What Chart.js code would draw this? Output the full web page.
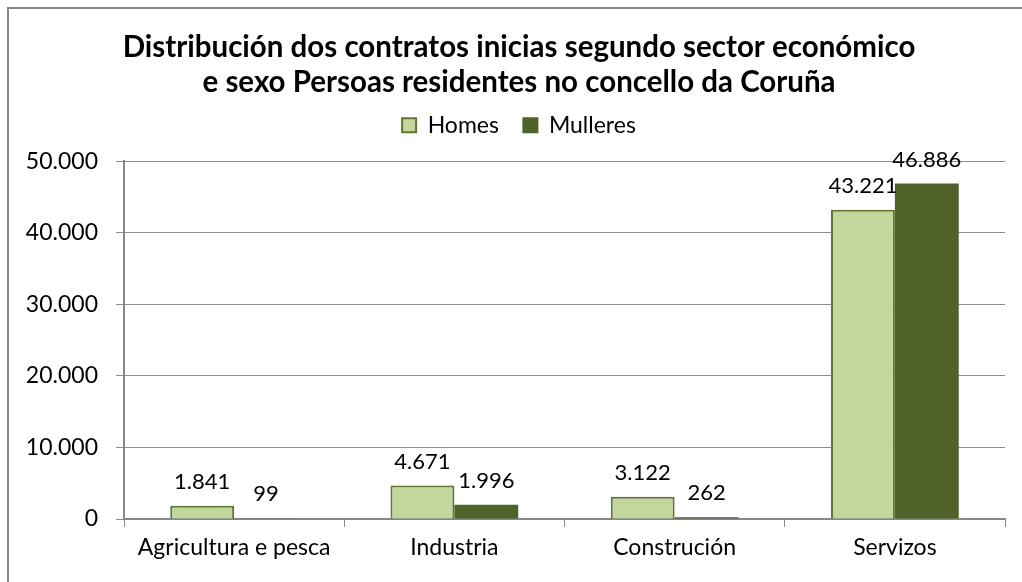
<!DOCTYPE html>
<html>
<head>
<meta charset="utf-8">
<script src="https://cdn.jsdelivr.net/npm/chart.js@4.4.0/dist/chart.umd.min.js"></script>
<style>
  html, body { margin: 0; padding: 0; background: #ffffff; }
  #wrap { position: relative; width: 1022px; height: 582px; }
</style>
</head>
<body>
<div id="wrap"><canvas id="c" width="1022" height="582"></canvas></div>
<script>
const titleLines = ["Distribución dos contratos inicias segundo sector económico", "e sexo Persoas residentes no concello da Coruña"];
const categories = ["Agricultura e pesca", "Industria", "Construción", "Servizos"];
const seriesNames = ["Homes", "Mulleres"];
const homes = [1841, 4671, 3122, 43221];
const mulleres = [99, 1996, 262, 46886];
const yTicks = [0, 10000, 20000, 30000, 40000, 50000];

const FONT = "Lato, 'Open Sans', sans-serif";
const fmt = v => v.toString().replace(/\B(?=(\d{3})+(?!\d))/g, ".");

const framePlugin = {
  id: 'frame',
  beforeDraw(chart) {
    const ctx = chart.ctx;
    ctx.save();
    ctx.fillStyle = '#ffffff';
    ctx.fillRect(0, 0, chart.width, chart.height);
    ctx.strokeStyle = '#868686';
    ctx.lineWidth = 2;
    ctx.beginPath();
    ctx.moveTo(8, chart.height);
    ctx.lineTo(8, 8);
    ctx.lineTo(chart.width, 8);
    ctx.stroke();
    ctx.restore();
  }
};

// shift the title and legend block so they are centred on the frame as in the reference
const centrePlugin = {
  id: 'centreHeader',
  afterLayout(chart) {
    if (chart.titleBlock) chart.titleBlock.left += 33;
    if (chart.legend) chart.legend.left += 33;
  }
};

const labelPlugin = {
  id: 'vlabels',
  afterDatasetsDraw(chart) {
    const ctx = chart.ctx;
    ctx.save();
    ctx.font = "22px " + FONT;
    ctx.fillStyle = '#000000';
    ctx.textAlign = 'center';
    ctx.textBaseline = 'middle';
    chart.data.datasets.forEach((ds, di) => {
      const meta = chart.getDatasetMeta(di);
      meta.data.forEach((bar, i) => {
        ctx.fillText(fmt(ds.data[i]), bar.x, bar.y - 24);
      });
    });
    ctx.restore();
  }
};

new Chart(document.getElementById('c'), {
  type: 'bar',
  data: {
    labels: categories,
    datasets: [
      { label: seriesNames[0], data: homes, backgroundColor: '#c3d69b', borderColor: '#5f7530', borderWidth: 2, borderSkipped: 'bottom' },
      { label: seriesNames[1], data: mulleres, backgroundColor: '#4f6228', borderColor: '#4f6228', borderWidth: 0 }
    ]
  },
  options: {
    responsive: false,
    animation: false,
    events: [],
    layout: { padding: { left: 0, right: 17, top: 0, bottom: 0 } },
    datasets: { bar: { categoryPercentage: 0.58, barPercentage: 1.0 } },
    plugins: {
      title: {
        display: true,
        text: titleLines,
        color: '#000000',
        font: { family: FONT, size: 29.5, weight: 'bold', lineHeight: 1.2 },
        padding: { top: 29.5, bottom: -11 }
      },
      subtitle: {
        display: true,
        text: '',
        weight: 500,
        font: { family: FONT, size: 1, lineHeight: 1 },
        padding: { top: 0, bottom: 13.5 }
      },
      legend: {
        display: true,
        position: 'top',
        weight: 1000,
        labels: {
          color: '#000000',
          font: { family: FONT, size: 23 },
          boxWidth: 14, boxHeight: 14,
          padding: 24.5,
          generateLabels(chart) {
            return chart.data.datasets.map((ds, i) => ({
              text: ds.label,
              fillStyle: ds.backgroundColor,
              strokeStyle: i === 0 ? '#5f7530' : ds.backgroundColor,
              lineWidth: 2,
              datasetIndex: i,
              fontColor: '#000000'
            }));
          }
        }
      },
      tooltip: { enabled: false }
    },
    scales: {
      x: {
        grid: { display: true, drawOnChartArea: false, drawTicks: true, tickLength: 8, color: '#888888', offset: true },
        border: { display: true, color: '#888888', width: 2 },
        ticks: { color: '#000000', font: { family: FONT, size: 23 }, padding: 7, maxRotation: 0 },
        afterFit(scale) { scale.height = 63; }
      },
      y: {
        min: 0, max: 50000,
        afterBuildTicks(scale) { scale.ticks = yTicks.map(v => ({ value: v })); },
        grid: { color: '#8c8c8c', lineWidth: 1, drawTicks: true, tickLength: 8 },
        border: { display: true, color: '#888888', width: 2 },
        ticks: { color: '#000000', font: { family: FONT, size: 23 }, padding: 18, callback: v => fmt(v) },
        afterFit(scale) { scale.width = 124; }
      }
    }
  },
  plugins: [framePlugin, centrePlugin, labelPlugin]
});
</script>
</body>
</html>
